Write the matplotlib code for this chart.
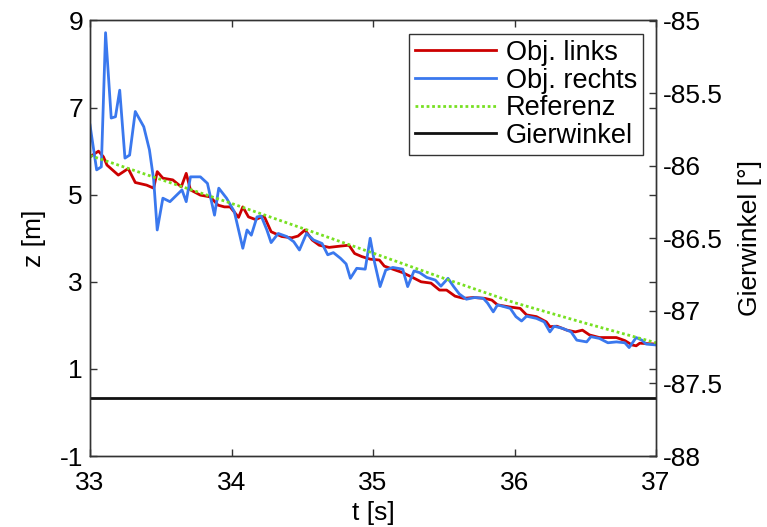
import matplotlib
matplotlib.use("Agg")
import matplotlib.pyplot as plt

# ---- data ----
t_links = [33.0, 33.06, 33.095, 33.12, 33.2, 33.27, 33.32, 33.40, 33.45, 33.475, 33.515, 33.585,
           33.645, 33.68, 33.71, 33.78, 33.85, 33.905, 33.95, 33.99, 34.05, 34.08, 34.12, 34.17,
           34.23, 34.28, 34.355, 34.425, 34.47, 34.52, 34.57, 34.62, 34.69, 34.77, 34.83, 34.87,
           34.92, 34.98, 35.045, 35.08, 35.14, 35.21, 35.28, 35.34, 35.41, 35.47, 35.52, 35.58,
           35.64, 35.71, 35.79, 35.84, 35.88, 35.97, 36.04, 36.085, 36.155, 36.225, 36.25, 36.30,
           36.37, 36.43, 36.48, 36.53, 36.60, 36.66, 36.72, 36.78, 36.83, 36.86, 36.885, 37.0]
z_links = [5.87, 6.0, 5.87, 5.68, 5.45, 5.6, 5.28, 5.22, 5.15, 5.53, 5.38, 5.34,
           5.18, 5.49, 5.11, 4.99, 4.95, 4.76, 4.72, 4.72, 4.48, 4.72, 4.49, 4.43,
           4.51, 4.15, 4.04, 4.01, 4.05, 4.19, 3.96, 3.84, 3.79, 3.82, 3.84, 3.65,
           3.58, 3.52, 3.50, 3.36, 3.29, 3.21, 3.10, 3.00, 2.97, 2.81, 2.81, 2.67,
           2.62, 2.64, 2.62, 2.58, 2.47, 2.42, 2.39, 2.24, 2.20, 2.08, 1.97, 1.98,
           1.89, 1.85, 1.89, 1.78, 1.72, 1.72, 1.72, 1.65, 1.55, 1.53, 1.59, 1.57]

t_rechts = [33.0, 33.047, 33.08, 33.11, 33.15, 33.18, 33.21, 33.247, 33.28, 33.32, 33.38, 33.42,
            33.45, 33.475, 33.515, 33.565, 33.65, 33.68, 33.71, 33.78, 33.83, 33.88, 33.91, 33.965,
            34.02, 34.08, 34.11, 34.14, 34.18, 34.21, 34.25, 34.28, 34.33, 34.39, 34.44, 34.48,
            34.53, 34.58, 34.64, 34.68, 34.72, 34.77, 34.81, 34.84, 34.885, 34.945, 34.98, 35.01,
            35.05, 35.09, 35.14, 35.21, 35.245, 35.29, 35.33, 35.38, 35.44, 35.48, 35.53, 35.57,
            35.61, 35.66, 35.72, 35.78, 35.81, 35.85, 35.88, 35.97, 36.01, 36.05, 36.085, 36.155,
            36.21, 36.25, 36.28, 36.34, 36.40, 36.44, 36.51, 36.54, 36.60, 36.66, 36.72, 36.78,
            36.81, 36.86, 36.90, 36.93, 37.0]
z_rechts = [6.6, 5.57, 5.64, 8.72, 6.76, 6.79, 7.40, 5.84, 5.91, 6.91, 6.56, 6.03,
            5.34, 4.19, 4.92, 4.84, 5.11, 4.84, 5.41, 5.41, 5.26, 4.53, 5.15, 4.92,
            4.61, 3.77, 4.19, 4.07, 4.49, 4.51, 4.19, 3.90, 4.11, 4.04, 3.92, 3.73,
            4.11, 3.96, 3.88, 3.62, 3.67, 3.54, 3.41, 3.08, 3.31, 3.29, 4.0, 3.46,
            2.89, 3.27, 3.33, 3.29, 2.89, 3.25, 3.21, 3.10, 3.04, 2.90, 3.08, 2.89,
            2.72, 2.60, 2.64, 2.62, 2.51, 2.31, 2.47, 2.39, 2.20, 2.10, 2.21, 2.16,
            2.08, 1.85, 1.98, 1.93, 1.85, 1.66, 1.62, 1.74, 1.70, 1.60, 1.62, 1.60,
            1.49, 1.72, 1.66, 1.57, 1.55]

t_ref = [33.0, 33.5, 34.0, 34.5, 35.0, 35.5, 36.0, 36.5, 37.0]
z_ref = [5.9, 5.35, 4.8, 4.23, 3.66, 3.08, 2.52, 2.05, 1.6]

t_gier = [33.0, 37.0]
gier = [-87.6, -87.6]

x_ticks = [33, 34, 35, 36, 37]
z_ticks = [-1, 1, 3, 5, 7, 9]
g_ticks = [-88, -87.5, -87, -86.5, -86, -85.5, -85]
g_labels = ["-88", "-87.5", "-87", "-86.5", "-86", "-85.5", "-85"]

labels = ["Obj. links", "Obj. rechts", "Referenz", "Gierwinkel"]

# ---- plot ----
plt.rcParams['font.family'] = ['Liberation Sans', 'DejaVu Sans']
plt.rcParams['axes.unicode_minus'] = False
FS = 19

fig = plt.figure(figsize=(7.67, 5.27), dpi=100)
ax = fig.add_axes([90 / 767, 1 - 456 / 527, (656 - 90) / 767, (456 - 20.5) / 527])
ax2 = ax.twinx()

l1, = ax.plot(t_links, z_links, color='#cc0000', lw=2.0)
l2, = ax.plot(t_rechts, z_rechts, color='#3a78ee', lw=2.0)
l3, = ax.plot(t_ref, z_ref, color='#77e022', lw=2.0, ls=(0, (1, 1)))
l4, = ax2.plot(t_gier, gier, color='#111111', lw=2.0)

ax.set_xlim(33, 37)
ax.set_ylim(-1, 9)
ax2.set_ylim(-88, -85)
ax.set_xticks(x_ticks)
ax.set_yticks(z_ticks)
ax2.set_yticks(g_ticks)
ax2.set_yticklabels(g_labels)

ax.tick_params(axis='y', direction='in', length=5, width=1, labelsize=FS, color='#333333',
               right=True, labelright=False, pad=5)
ax.tick_params(axis='x', direction='in', length=5, width=1, labelsize=FS, color='#333333',
               top=True, pad=11)
ax2.tick_params(direction='in', length=5, width=1, labelsize=FS, color='#333333', pad=5)

for a in (ax, ax2):
    for s in a.spines.values():
        s.set_color('#333333')
        s.set_linewidth(1.0)

ax.set_xlabel('t [s]', fontsize=FS, labelpad=4)
ax.set_ylabel('z [m]', fontsize=FS, labelpad=10)
ax2.set_ylabel('Gierwinkel [°]', fontsize=FS, labelpad=11)

leg = ax2.legend([l1, l2, l3, l4], labels, loc='upper right',
                 bbox_to_anchor=(643 / 767, 1 - 34 / 527), bbox_transform=fig.transFigure,
                 prop={'size': 19.5}, frameon=True, fancybox=False, framealpha=1,
                 edgecolor='#333333', handlelength=3.0, handletextpad=0.35,
                 labelspacing=0.06, borderpad=0.22, borderaxespad=0)
leg.get_frame().set_linewidth(1.0)

fig.savefig('out.png', dpi=100)
